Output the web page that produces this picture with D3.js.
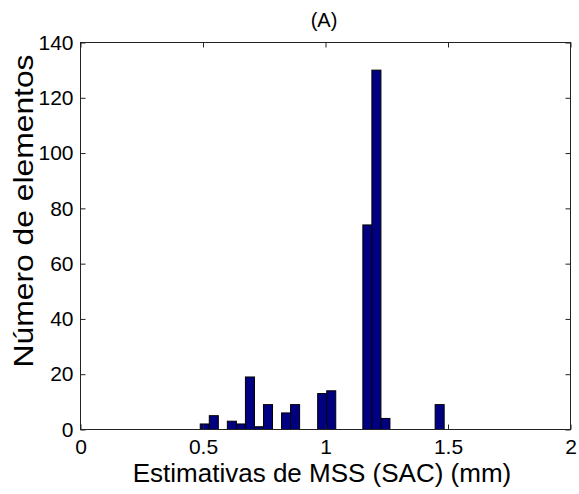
<!DOCTYPE html>
<html>
<head>
<meta charset="utf-8">
<script src="https://cdn.jsdelivr.net/npm/d3@7"></script>
<style>
  html, body { margin: 0; padding: 0; background: #fff; }
  svg { display: block; font-family: "Liberation Sans", Arial, sans-serif; }
</style>
</head>
<body>
<svg id="chart" width="579" height="494"></svg>
<script>
// Histogram bin centers (mm) and counts
const binCenters = [0.5072, 0.5441, 0.5810, 0.6178, 0.6547, 0.6916, 0.7284, 0.7653, 0.8022,
  0.8391, 0.8759, 0.9128, 0.9497, 0.9865, 1.0234, 1.0603, 1.0972, 1.1340, 1.1709, 1.2078,
  1.2446, 1.2815, 1.3184, 1.3553, 1.3921, 1.4290, 1.4659];
const counts = [2, 5, 0, 3, 2, 19, 1, 9, 0, 6, 9, 0, 0, 13, 14, 0, 0, 0, 74, 130, 4, 0, 0, 0, 0, 0, 9];
const binWidth = 0.03687;
const xTicks = [0, 0.5, 1, 1.5, 2];
const yTicks = [0, 20, 40, 60, 80, 100, 120, 140];
const xDomain = [0, 2];
const yDomain = [0, 140];
const titleText = "(A)";
const xLabelText = "Estimativas de MSS (SAC) (mm)";
const yLabelText = "Número de elementos";

const svg = d3.select("#chart");
const L = 80.5, R = 570.5, T = 42.5, B = 429.5;
const x = d3.scaleLinear().domain(xDomain).range([L, R]);
const y = d3.scaleLinear().domain(yDomain).range([B, T]);

svg.append("rect").attr("width", 579).attr("height", 494).attr("fill", "#fff");

const data = binCenters.map((c, i) => ({ c, n: counts[i] })).filter(d => d.n > 0);

svg.append("g").selectAll("rect").data(data).join("rect")
  .attr("x", d => x(d.c - binWidth / 2))
  .attr("width", d => x(d.c + binWidth / 2) - x(d.c - binWidth / 2))
  .attr("y", d => y(d.n))
  .attr("height", d => y(0) - y(d.n))
  .attr("fill", "#000080")
  .attr("stroke", "#000")
  .attr("stroke-width", 1);

// Axes (ticks pointing inward, mirrored)
const tl = 5;
const axStyle = g => {
  g.select(".domain").remove();
  g.selectAll(".tick line").attr("stroke", "#222");
};
svg.append("g").attr("transform", `translate(0,${B})`)
  .call(d3.axisBottom(x).tickValues(xTicks).tickSize(-tl).tickPadding(10).tickFormat(d3.format("")))
  .call(axStyle)
  .call(g => g.selectAll("text").attr("font-size", 21).attr("fill", "#000").attr("font-family", "Liberation Sans, Arial, sans-serif"));
svg.append("g").attr("transform", `translate(0,${T})`)
  .call(d3.axisTop(x).tickValues(xTicks).tickSize(-tl).tickFormat(""))
  .call(axStyle);
svg.append("g").attr("transform", `translate(${L},0)`)
  .call(d3.axisLeft(y).tickValues(yTicks).tickSize(-tl).tickPadding(7))
  .call(axStyle)
  .call(g => g.selectAll("text").attr("font-size", 21).attr("fill", "#000").attr("font-family", "Liberation Sans, Arial, sans-serif"));
svg.append("g").attr("transform", `translate(${R},0)`)
  .call(d3.axisRight(y).tickValues(yTicks).tickSize(-tl).tickFormat(""))
  .call(axStyle);

svg.append("rect").attr("x", L).attr("y", T).attr("width", R - L).attr("height", B - T)
  .attr("fill", "none").attr("stroke", "#222").attr("stroke-width", 1);

svg.append("text").attr("x", 324).attr("y", 27).attr("text-anchor", "middle")
  .attr("font-size", 20).text(titleText);
svg.append("text").attr("x", 322).attr("y", 482).attr("text-anchor", "middle")
  .attr("font-size", 26).text(xLabelText);
svg.append("text").attr("transform", "translate(33,211) rotate(-90)").attr("text-anchor", "middle")
  .attr("font-size", 27).attr("textLength", 313).attr("lengthAdjust", "spacingAndGlyphs").text(yLabelText);
</script>
</body>
</html>
